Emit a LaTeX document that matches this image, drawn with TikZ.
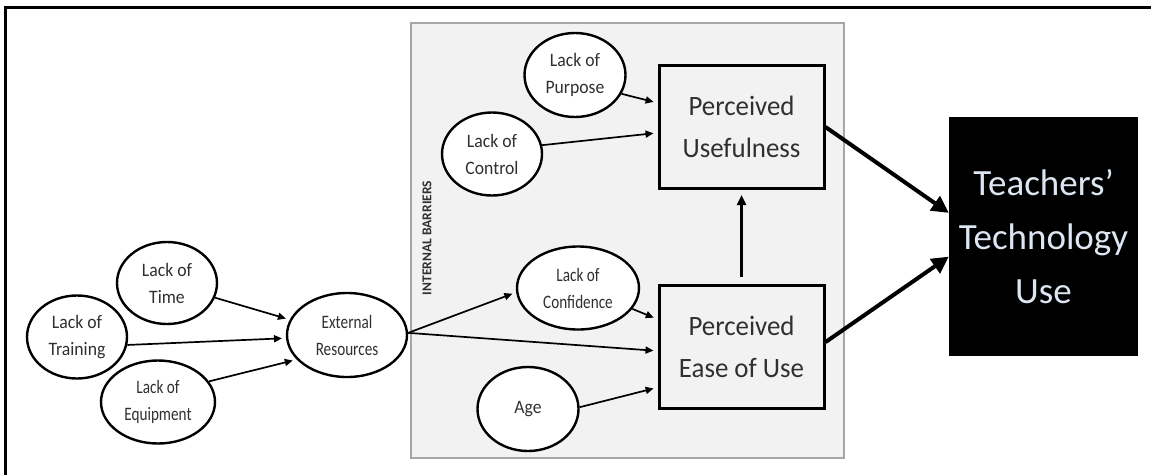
\documentclass[tikz,border=0pt]{standalone}
\usepackage{fontspec}
\setmainfont{Carlito}
\newfontfamily\ellfont[FakeStretch=0.93]{Carlito}
\newfontfamily\condfont[FakeStretch=0.80]{Carlito}
\newfontfamily\boxfont[FakeStretch=0.96]{Carlito}
\usetikzlibrary{shapes.geometric,arrows.meta}
\definecolor{panelfill}{HTML}{F2F2F2}
\definecolor{panelline}{HTML}{A6A6A6}
\definecolor{txt}{HTML}{303030}
\definecolor{lighttxt}{HTML}{DCE6F2}
\begin{document}
\begin{tikzpicture}[x=1pt,y=-1pt,
  barrier/.style={ellipse,draw=black,line width=2.4pt,fill=white,inner sep=0pt,
     align=center,text=txt,font=\ellfont\fontsize{19}{27}\selectfont},
  condensed/.style={font=\condfont\fontsize{19}{27}\selectfont},
  percbox/.style={rectangle,draw=black,line width=3pt,fill=panelfill,
     minimum width=165pt,minimum height=123pt,inner sep=0pt,align=center,
     text=txt,font=\boxfont\fontsize{28}{42}\selectfont},
  thin/.style={-{Triangle[length=8pt,width=7pt]},line width=1.7pt,shorten >=4pt},
  thick/.style={-{Triangle[length=17pt,width=17pt]},line width=4pt}
]
\useasboundingbox (0,0) rectangle (1151,474);
\fill[white] (0,0) rectangle (1151,474);
% outer frame
\draw[line width=3pt] (5,490) -- (5,7) -- (1160,7);
% panel
\draw[panelline,fill=panelfill,line width=2pt] (411,23) rectangle (844,458);
\node[rotate=90,font=\bfseries\fontsize{13.5}{14}\selectfont,text=txt] (ib) at (427,238) {INTERNAL BARRIERS};

% external barriers
\node[barrier,minimum width=100pt,minimum height=82pt] (time) at (167,283) {Lack of\\Time};
\node[barrier,minimum width=100pt,minimum height=83pt] (train) at (77,337) {Lack of\\Training};
\node[barrier,condensed,minimum width=114pt,minimum height=83pt] (equip) at (158,402) {Lack of\\Equipment};
\node[barrier,condensed,minimum width=120pt,minimum height=84pt] (ext) at (347,335) {External\\Resources};

% internal barriers
\node[barrier,minimum width=101pt,minimum height=84pt] (purp) at (575,75) {Lack of\\Purpose};
\node[barrier,minimum width=100pt,minimum height=83pt] (ctrl) at (492,154) {Lack of\\Control};
\node[barrier,condensed,minimum width=122pt,minimum height=83pt] (conf) at (578,288) {Lack of\\Confidence};
\node[barrier,minimum width=101pt,minimum height=84pt] (age) at (528,409) {Age};

% perceived boxes
\node[percbox] (pu) at (741.5,127) {Perceived\\Usefulness};
\node[percbox] (ease) at (741.5,346.5) {Perceived\\Ease of Use};

% outcome
\node[rectangle,fill=black,minimum width=189pt,minimum height=239pt,inner sep=0pt,
  align=center,text=lighttxt,font=\fontsize{37}{54}\selectfont] (use) at (1043.5,236.5)
  {Teachers’\\Technology\\Use};

% connectors
\draw[thin] (time.-17) -- (ext.165);
\draw[thin] (train.-9) -- (ext.183);
\draw[thin] (equip.22) -- (ext.206);
\draw[thin] (ext.2) -- (conf.184);
\draw[thin] (ext.2) -- (ease.183);
\draw[thin] (conf.-21) -- (ease.162);
\draw[thin] (age.2) -- (ease.206);
\draw[thin] (purp.-22) -- (pu.164);
\draw[thin] (ctrl.10) -- (pu.184);
\draw[thin,line width=2.4pt,-{Triangle[length=10pt,width=9pt]},shorten <=7pt,shorten >=5pt] (ease.north) -- (pu.south);
\draw[thick] (pu.east) -- (use.166.5);
\draw[thick] (ease.3) -- (use.192);
\end{tikzpicture}
\end{document}
